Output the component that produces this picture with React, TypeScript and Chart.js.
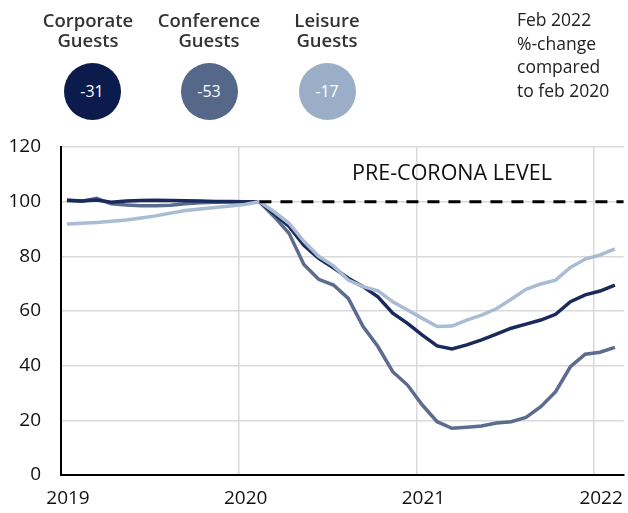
import React, { useEffect, useRef } from 'react';
import { Chart, registerables } from 'chart.js';

Chart.register(...registerables);

// Monthly series, Jan 2019 .. Feb 2022 (index = months since Jan 2019)
const corporate = [
  100.4, 100.2, 100.6, 99.8, 100.2, 100.4, 100.5, 100.4, 100.3, 100.2, 100.1, 100.1, 100.0, 100.0,
  95.5, 90.9, 84.0, 79.3, 75.8, 72.0, 68.9, 65.2, 59.2, 55.5, 51.2, 47.2, 46.1, 47.6, 49.4, 51.5,
  53.7, 55.2, 56.7, 58.8, 63.4, 65.9, 67.3, 69.5,
];
const conference = [
  100.6, 100.2, 101.2, 99.2, 98.8, 98.5, 98.5, 98.7, 99.2, 99.6, 99.8, 99.9, 100.0, 100.0,
  94.5, 88.4, 77.0, 71.6, 69.5, 64.6, 54.3, 47.0, 37.8, 32.9, 25.6, 19.5, 17.1, 17.5, 17.9, 19.0,
  19.5, 21.1, 25.0, 30.5, 39.6, 44.2, 44.9, 46.7,
];
const leisure = [
  91.8, 92.1, 92.4, 92.8, 93.3, 94.0, 94.8, 95.8, 96.8, 97.3, 97.9, 98.4, 99.0, 100.0,
  96.3, 92.1, 85.5, 80.0, 76.5, 71.3, 68.9, 67.4, 63.4, 60.4, 57.3, 54.3, 54.5, 56.7, 58.5, 60.8,
  64.3, 67.9, 69.9, 71.3, 75.9, 79.0, 80.5, 82.7,
];

const firstYear = 2019;
const yearTicks = [2019, 2020, 2021, 2022];
const preCoronaLevel = 100;
const preCoronaStartIndex = 13; // Feb 2020
const preCoronaLabel = 'PRE-CORONA LEVEL';
const dayOffset = 0.4; // points sit slightly into each month

const legendItems = [
  { lines: ['Corporate', 'Guests'], value: '-31', color: '#0b1b4b' },
  { lines: ['Conference', 'Guests'], value: '-53', color: '#56688a' },
  { lines: ['Leisure', 'Guests'], value: '-17', color: '#9aafc7' },
];
const noteLines = ['Feb 2022', '%-change', 'compared', 'to feb 2020'];

const lineColors = { corporate: '#1a2a5c', conference: '#5b6c8f', leisure: '#a9bcd3' };

const FONT = '"Open Sans", "DejaVu Sans", sans-serif';

const toPoints = (arr: number[]) => arr.map((v, i) => ({ x: i + dayOffset, y: v }));

const preCoronaPlugin = {
  id: 'preCorona',
  afterDatasetsDraw(chart: any) {
    const { ctx, scales } = chart;
    const x = scales.x.getPixelForValue(26.4);
    const y = scales.y.getPixelForValue(110.1);
    ctx.save();
    ctx.font = `21.5px ${FONT}`;
    ctx.fillStyle = '#111';
    ctx.textAlign = 'center';
    ctx.textBaseline = 'middle';
    ctx.fillText(preCoronaLabel, x, y);
    ctx.restore();
  },
};

export default function App() {
  const ref = useRef<HTMLCanvasElement | null>(null);

  useEffect(() => {
    if (!ref.current) return;
    const lastX = 38;
    const chart = new Chart(ref.current, {
      type: 'line',
      data: {
        datasets: [
          {
            label: 'Pre-corona level',
            data: [
              { x: preCoronaStartIndex + dayOffset, y: preCoronaLevel },
              { x: lastX, y: preCoronaLevel },
            ],
            borderColor: '#000',
            borderWidth: 3,
            borderDash: [12, 9],
            pointRadius: 0,
          },
          {
            label: 'Leisure',
            data: toPoints(leisure),
            borderColor: lineColors.leisure,
            borderWidth: 3.5,
            pointRadius: 0,
            tension: 0,
          },
          {
            label: 'Corporate',
            data: toPoints(corporate),
            borderColor: lineColors.corporate,
            borderWidth: 3.5,
            pointRadius: 0,
            tension: 0,
          },
          {
            label: 'Conference',
            data: toPoints(conference),
            borderColor: lineColors.conference,
            borderWidth: 3.5,
            pointRadius: 0,
            tension: 0,
          },
        ],
      },
      options: {
        animation: false,
        responsive: false,
        maintainAspectRatio: false,
        layout: { padding: { top: 147, right: 3, left: 0, bottom: 0 } },
        plugins: { legend: { display: false }, tooltip: { enabled: false } },
        scales: {
          x: {
            type: 'linear',
            min: 0,
            max: lastX,
            afterBuildTicks: (scale: any) => {
              scale.ticks = yearTicks.map((yr) => ({ value: (yr - firstYear) * 12 }));
            },
            afterFit: (scale: any) => {
              scale.height = 38;
            },
            grid: { color: '#d9d9d9', lineWidth: 1.5, drawTicks: false },
            border: { display: true, color: '#000', width: 2 },
            ticks: {
              padding: 12,
              labelOffset: 7,
              maxRotation: 0,
              color: '#111',
              font: { family: FONT, size: 19 },
              callback: (v: any) => String(firstYear + Number(v) / 12),
            },
          },
          y: {
            min: 0,
            max: 120,
            afterFit: (scale: any) => {
              scale.width = 61;
            },
            grid: { color: '#d9d9d9', lineWidth: 1.5, drawTicks: false },
            border: { display: true, color: '#000', width: 2 },
            ticks: {
              stepSize: 20,
              padding: 20,
              color: '#111',
              font: { family: FONT, size: 19 },
            },
          },
        },
      },
      plugins: [preCoronaPlugin],
    });
    return () => chart.destroy();
  }, []);

  const centers = [88, 209, 327];

  return (
    <div style={{ position: 'fixed', left: 0, top: 0, width: 628, height: 513, background: '#fff', fontFamily: FONT }}>
      <canvas ref={ref} width={628} height={513} style={{ position: 'absolute', left: 0, top: 0, width: 628, height: 513 }} />
      {legendItems.map((it, i) => (
        <React.Fragment key={i}>
          <div
            style={{
              position: 'absolute',
              left: centers[i] - 70,
              top: 10,
              width: 140,
              textAlign: 'center',
              fontSize: 18.5,
              fontWeight: 600,
              lineHeight: '20px',
              color: '#333',
            }}
          >
            {it.lines.map((l, j) => (
              <div key={j}>{l}</div>
            ))}
          </div>
          <div
            style={{
              position: 'absolute',
              left: centers[i] + (i === 0 ? 4 : 0) - 28.5,
              top: 62.5,
              width: 57,
              height: 57,
              borderRadius: '50%',
              background: it.color,
              color: '#fff',
              display: 'flex',
              alignItems: 'center',
              justifyContent: 'center',
              fontSize: 16,
            }}
          >
            {it.value}
          </div>
        </React.Fragment>
      ))}
      <div
        style={{
          position: 'absolute',
          left: 517,
          top: 8,
          fontSize: 17.5,
          lineHeight: '23.5px',
          color: '#222',
          whiteSpace: 'nowrap',
        }}
      >
        {noteLines.map((l, j) => (
          <div key={j}>{l}</div>
        ))}
      </div>
    </div>
  );
}
